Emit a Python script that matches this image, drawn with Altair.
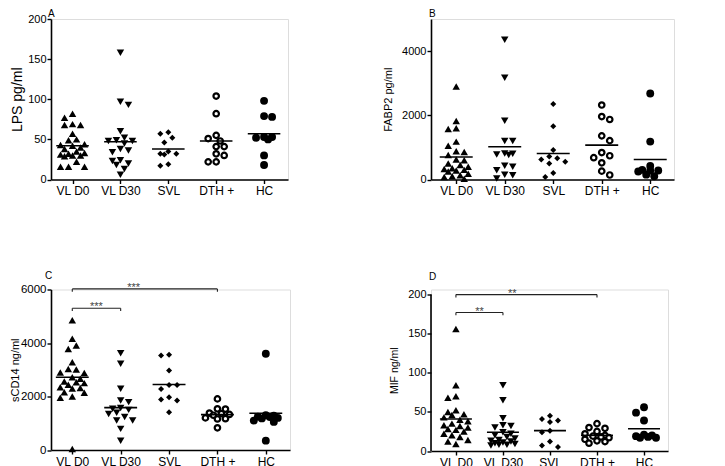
import json
import altair as alt
import pandas as pd

GROUPS = ["VL D0", "VL D30", "SVL", "DTH +", "HC"]
SHAPES = ["triangle-up", "triangle-down", "diamond", "circle", "circle"]
FILLS = ["black", "black", "black", "white", "black"]
SIZES = [56, 56, 36, 30, 62]
STROKES = [0, 0, 0, 2.2, 0]
FONT = "Liberation Sans"

# ---- Panel A: LPS pg/ml ----
lps_vl_d0 = [82, 77, 69, 68, 68, 57, 50, 49, 44, 43, 42, 40, 38, 35, 33, 31, 30, 29, 30, 32, 22, 16, 16, 16]
lps_vl_d30 = [158, 97, 93, 60, 52, 49, 48, 48, 45, 38, 36, 34, 24, 23, 20, 18, 13, 6]
lps_svl = [59, 57, 52, 46, 35, 32, 32, 31, 19, 17]
lps_dth = [104, 82, 55, 51, 48, 41, 41, 32, 30, 22, 22]
lps_hc = [98, 79, 78, 53, 53, 52, 50, 30, 18]
lps_means = [42, 47, 38, 48, 57]

# ---- Panel B: FABP2 pg/ml ----
fabp2_vl_d0 = [2900, 1820, 1600, 1570, 1180, 1050, 880, 860, 760, 620, 600, 500, 450, 400,
               350, 330, 300, 280, 250, 180, 130, 100, 80, 20]
fabp2_vl_d30 = [4350, 3170, 1830, 1200, 1200, 810, 800, 780, 760, 430, 400, 290, 150, 130, 30]
fabp2_svl = [2350, 1660, 920, 720, 660, 620, 550, 500, 200, 80]
fabp2_dth = [2320, 1960, 1870, 1360, 1210, 840, 740, 680, 520, 260, 140]
fabp2_hc = [2680, 1180, 420, 300, 280, 280, 250, 150, 100]
fabp2_means = [700, 1020, 810, 1070, 625]

# ---- Panel C: sCD14 ng/ml ----
scd14_vl_d0 = [4850, 4160, 3910, 3780, 3280, 3030, 3010, 2900, 2880, 2720, 2660, 2560, 2530,
               2500, 2440, 2350, 2320, 2300, 2160, 2140, 2000, 1950, 40]
scd14_vl_d30 = [3620, 3220, 2290, 1850, 1790, 1570, 1540, 1500, 1390, 1350, 1230, 1100, 1100, 790, 350]
scd14_svl = [3560, 3530, 2970, 2430, 2430, 2280, 1970, 1890, 1850, 1410]
scd14_dth = [1910, 1540, 1530, 1380, 1360, 1330, 1300, 1200, 1170, 1160, 830]
scd14_hc = [3600, 1300, 1280, 1250, 1230, 1200, 1180, 1100, 1050, 350]
scd14_means = [2720, 1585, 2446, 1323, 1373]
scd14_brackets = [(0, 1, 5300, "***", 0.5), (0, 3, 6023, "***", 1.27)]

# ---- Panel D: MIF ng/ml ----
mif_vl_d0 = [156, 84, 70, 68, 52, 50, 47, 46, 43, 40, 38, 35, 33, 32, 30, 28, 27, 25, 22, 20, 18, 14, 12, 9]
mif_vl_d30 = [84, 65, 42, 33, 32, 30, 24, 22, 20, 18, 16, 14, 13, 12, 11, 10, 9, 8, 8, 7]
mif_svl = [45, 41, 39, 37, 26, 24, 12, 7, 5]
mif_dth = [35, 30, 29, 25, 22, 20, 19, 18, 17, 15, 13, 12, 10]
mif_hc = [56, 49, 39, 21, 20, 19, 18, 17, 17]
mif_means = [41, 24, 26, 20, 28.5]
mif_brackets = [(0, 1, 177, "**", 0.5), (0, 3, 200, "**", 1.2)]


def swarm(values, px_per_val, px_per_cat, diam=8.0, max_k=3):
    """Simple beeswarm layout: returns horizontal offsets in category units."""
    order = sorted(range(len(values)), key=lambda i: -values[i])
    placed = []
    offs = [0.0] * len(values)
    for n, i in enumerate(order):
        yv = values[i] * px_per_val
        chosen = None
        best, best_d = 0.0, -1.0
        for k in range(0, max_k + 1):
            if k == 0:
                cands = [0.0]
            elif n % 2 == 0:
                cands = [k * diam / 2, -k * diam / 2]
            else:
                cands = [-k * diam / 2, k * diam / 2]
            for xc in cands:
                dmin = min([((xc - px) ** 2 + (yv - py) ** 2) ** 0.5 for px, py in placed] or [99])
                if dmin >= 0.85 * diam:
                    chosen = xc
                    break
                if dmin > best_d:
                    best, best_d = xc, dmin
            if chosen is not None:
                break
        if chosen is None:
            chosen = best
        placed.append((chosen, yv))
        offs[i] = chosen / px_per_cat
    return offs


def panel(series, means, ymax_dom, ticks, ytitle, width, height, xlo, xhi,
          letter, letter_xy, title_fs, label_fs, title_pad,
          brackets=None, axis_top=None):
    ppv = height / ymax_dom
    ppc = width / (xhi - xlo)
    rows = []
    for gi, vals in enumerate(series):
        offs = swarm(vals, ppv, ppc)
        for v, o in zip(vals, offs):
            rows.append({"group": GROUPS[gi], "pos": gi + o, "value": v})
    pts = pd.DataFrame(rows)

    xs = alt.Scale(domain=[xlo, xhi], nice=False, zero=False)
    ys = alt.Scale(domain=[0, ymax_dom], nice=False, zero=True)
    xaxis = alt.Axis(values=[0, 1, 2, 3, 4], labelExpr=json.dumps(GROUPS) + "[datum.value]",
                     title=None, grid=False, domainColor="black", domainWidth=1.6,
                     tickColor="black", tickWidth=1.4, tickSize=4, labelFontSize=12,
                     labelPadding=2, labelColor="black", labelFont=FONT,
                     labelFlush=False, labelOverlap=False)
    yaxis = alt.Axis(values=ticks, format="d", title=ytitle, grid=False,
                     domain=(axis_top is None),
                     domainColor="black", domainWidth=1.6, tickColor="black", tickWidth=1.4,
                     tickSize=4, labelFontSize=label_fs, labelPadding=1, labelColor="black",
                     labelFont=FONT, titleFont=FONT, titleFontSize=title_fs,
                     titleFontWeight="normal", titleColor="black", titlePadding=title_pad)
    X = alt.X("pos:Q", scale=xs, axis=xaxis)
    Y = alt.Y("value:Q", scale=ys, axis=yaxis)

    layers = []
    for gi, g in enumerate(GROUPS):
        sub = pts[pts["group"] == g]
        layers.append(
            alt.Chart(sub).mark_point(shape=SHAPES[gi], filled=True, fill=FILLS[gi],
                                      stroke="black", strokeWidth=STROKES[gi],
                                      size=SIZES[gi], opacity=1).encode(x=X, y=Y)
        )

    mdf = pd.DataFrame({"lo": [i - 0.34 for i in range(5)],
                        "hi": [i + 0.34 for i in range(5)],
                        "mean": means})
    layers.append(alt.Chart(mdf).mark_rule(color="black", strokeWidth=1.6).encode(
        x=alt.X("lo:Q", scale=xs), x2="hi:Q", y=alt.Y("mean:Q", scale=ys)))

    if axis_top is not None:
        adf = pd.DataFrame({"y0": [0], "y1": [axis_top]})
        layers.append(alt.Chart(adf).mark_rule(color="black", strokeWidth=1.6).encode(
            x=alt.value(0), y=alt.Y("y0:Q", scale=ys), y2="y1:Q"))

    if brackets:
        drop = 2.8 / ppv
        hdf = pd.DataFrame({"a": [b[0] for b in brackets], "b": [b[1] for b in brackets],
                            "lvl": [b[2] for b in brackets]})
        layers.append(alt.Chart(hdf).mark_rule(color="#222", strokeWidth=1.1).encode(
            x=alt.X("a:Q", scale=xs), x2="b:Q", y=alt.Y("lvl:Q", scale=ys)))
        vrows = []
        for b in brackets:
            for end in (b[0], b[1]):
                vrows.append({"xe": end, "top": b[2], "bot": b[2] - drop})
        vdf = pd.DataFrame(vrows)
        layers.append(alt.Chart(vdf).mark_rule(color="#222", strokeWidth=1.1).encode(
            x=alt.X("xe:Q", scale=xs), y=alt.Y("top:Q", scale=ys), y2="bot:Q"))
        tdf = pd.DataFrame({"tx": [b[4] for b in brackets], "lvl": [b[2] for b in brackets],
                            "lab": [b[3] for b in brackets]})
        layers.append(alt.Chart(tdf).mark_text(font=FONT, fontSize=11, color="#444",
                                               baseline="alphabetic", align="center", dy=2).encode(
            x=alt.X("tx:Q", scale=xs), y=alt.Y("lvl:Q", scale=ys), text="lab:N"))

    ldf = pd.DataFrame({"t": [letter]})
    layers.append(alt.Chart(ldf).mark_text(font=FONT, fontSize=10, color="black",
                                           align="left", baseline="middle").encode(
        x=alt.value(letter_xy[0]), y=alt.value(letter_xy[1]), text="t:N"))

    return alt.layer(*layers).properties(width=width, height=height)


pA = panel([lps_vl_d0, lps_vl_d30, lps_svl, lps_dth, lps_hc], lps_means, 200,
           [0, 50, 100, 150, 200], "LPS pg/ml", 237, 160.5, -0.45, 4.5,
           "A", (-3, -5), 14, 11, 3)
pB = panel([fabp2_vl_d0, fabp2_vl_d30, fabp2_svl, fabp2_dth, fabp2_hc], fabp2_means, 5000,
           [0, 1000, 2000, 3000, 4000, 5000], "FABP2 pg/ml", 243, 160.5, -0.52, 4.49,
           "B", (-2, -5), 11, 11, 8)
pC = panel([scd14_vl_d0, scd14_vl_d30, scd14_svl, scd14_dth, scd14_hc], scd14_means, 6000,
           [0, 2000, 4000, 6000], "sCD14 ng/ml", 239, 160.5, -0.44, 4.5,
           "C", (-6, -14), 11, 11.5, 0, brackets=scd14_brackets)
pD = panel([mif_vl_d0, mif_vl_d30, mif_svl, mif_dth, mif_hc], mif_means, 206.5,
           [0, 50, 100, 150, 200], "MIF ng/ml", 237, 161.5, -0.53, 4.51,
           "D", (-2, -13), 10.5, 11, 8, brackets=mif_brackets, axis_top=200)

chart = alt.concat(pA, pB, pC, pD, columns=2, spacing={"row": 109.5, "column": 141},
                   bounds="flush").properties(
    padding={"left": 0, "top": 0, "right": 5, "bottom": 0}
).configure_view(stroke=None).configure(background="white")

chart.save("out.html", embed_options={"renderer": "svg", "actions": False})
